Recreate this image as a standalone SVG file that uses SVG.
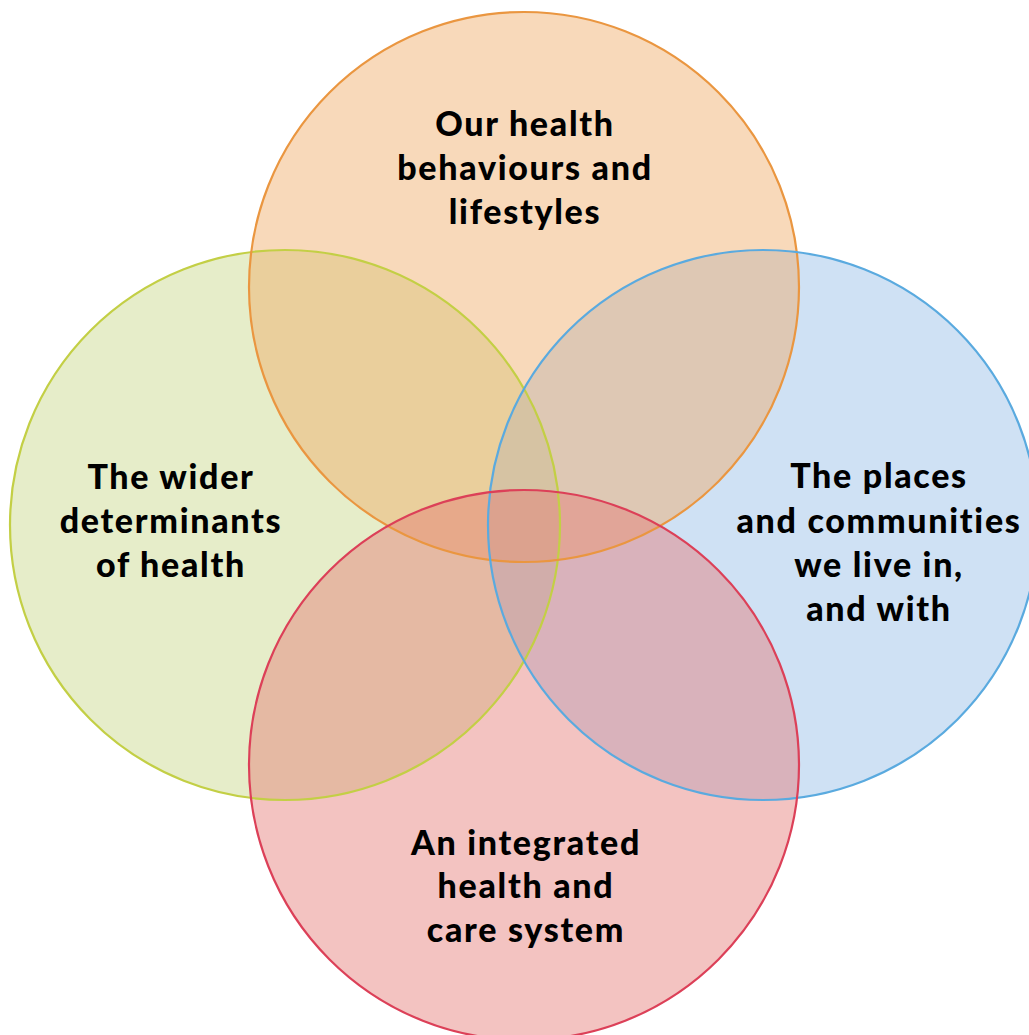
<svg xmlns="http://www.w3.org/2000/svg" width="1029" height="1035" viewBox="0 0 1029 1035">
<style>
.fill{fill-opacity:0.45;stroke:none}
.ring{fill:none;stroke-width:2.2}
.lbl{font-family:Lato,"Open Sans","Liberation Sans",sans-serif;font-weight:900;font-size:34px;letter-spacing:1.7px;font-variant-ligatures:none;fill:#000;text-anchor:middle}
</style>
<rect width="1029" height="1035" fill="#fff"/>
<g id="fills">
<circle class="fill" cx="285" cy="525" r="275" fill="#C7D787"/>
<circle class="fill" cx="763" cy="525" r="275" fill="#94BCE7"/>
<circle class="fill" cx="524" cy="287" r="275" fill="#EFAB66"/>
<circle class="fill" cx="524" cy="765" r="275" fill="#E47A75"/>
</g>
<g id="outlines">
<circle class="ring" cx="285" cy="525" r="275" stroke="#C3CF45"/>
<circle class="ring" cx="524" cy="287" r="275" stroke="#EA9640"/>
<circle class="ring" cx="763" cy="525" r="275" stroke="#5AAADF"/>
<circle class="ring" cx="524" cy="765" r="275" stroke="#DC4058"/>
</g>
<g id="node-top">
<text class="lbl" x="525" y="136">Our health</text>
<text class="lbl" x="525" y="180">behaviours and</text>
<text class="lbl" x="525" y="224">lifestyles</text>
</g>
<g id="node-left">
<text class="lbl" x="171" y="489">The wider</text>
<text class="lbl" x="171" y="533">determinants</text>
<text class="lbl" x="171" y="577">of health</text>
</g>
<g id="node-right">
<text class="lbl" x="879" y="488">The places</text>
<text class="lbl" x="879" y="533">and communities</text>
<text class="lbl" x="879" y="577">we live in,</text>
<text class="lbl" x="879" y="621">and with</text>
</g>
<g id="node-bottom">
<text class="lbl" x="526" y="855">An integrated</text>
<text class="lbl" x="526" y="898">health and</text>
<text class="lbl" x="526" y="942">care system</text>
</g>
</svg>
